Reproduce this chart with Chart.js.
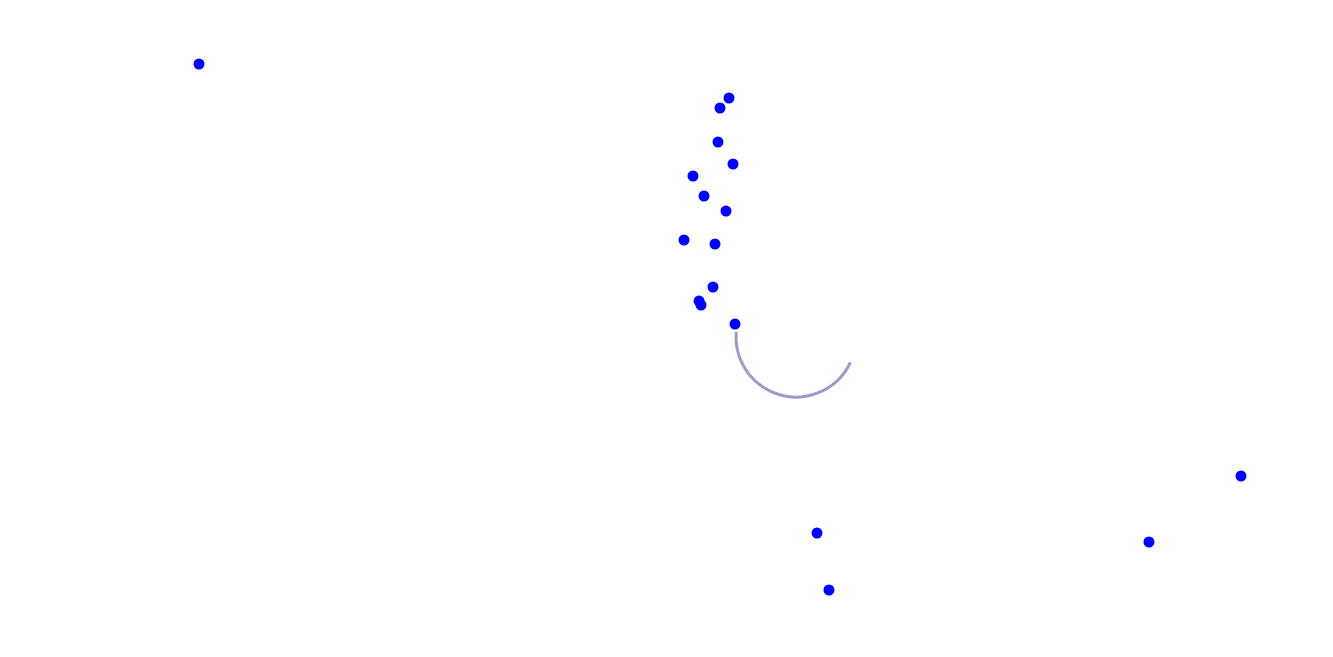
<!DOCTYPE html>
<html>
<head>
<meta charset="utf-8">
<script src="https://cdn.jsdelivr.net/npm/chart.js@4/dist/chart.umd.min.js"></script>
<style>
  html, body { margin: 0; padding: 0; background: #ffffff; }
  #wrap { width: 1333px; height: 657px; position: relative; }
</style>
</head>
<body>
<div id="wrap"><canvas id="c"></canvas></div>
<script>
// Data (x, y in chart units; y measured upward)
const xValues = [199, 729, 720, 718, 733, 693, 704, 726, 684, 715, 713, 699, 701, 735, 817, 829, 1149, 1241];
const yValues = [593, 559, 549, 515, 493, 481, 461, 446, 417, 413, 370, 356, 352, 333, 124, 67, 115, 181];

// Arc decoration (center in chart units)
const arcCenterX = 796;
const arcCenterY = 320;
const arcRadiusPx = 60;
const arcStartDeg = 25;
const arcEndDeg = 185;

const points = xValues.map((x, i) => ({ x: x, y: yValues[i] }));

const arcPlugin = {
  id: 'arcDecor',
  afterDatasetsDraw(chart) {
    const ctx = chart.ctx;
    const cx = chart.scales.x.getPixelForValue(arcCenterX);
    const cy = chart.scales.y.getPixelForValue(arcCenterY);
    ctx.save();
    ctx.beginPath();
    ctx.strokeStyle = '#9f98cc';
    ctx.lineWidth = 3;
    ctx.arc(cx, cy, arcRadiusPx, arcStartDeg * Math.PI / 180, arcEndDeg * Math.PI / 180, false);
    ctx.stroke();
    ctx.restore();
  }
};

new Chart(document.getElementById('c'), {
  type: 'scatter',
  data: {
    datasets: [{
      data: points,
      backgroundColor: '#0000ff',
      borderColor: '#0000ff',
      pointRadius: 5.5,
      pointHoverRadius: 5.5,
      borderWidth: 0
    }]
  },
  options: {
    responsive: true,
    maintainAspectRatio: false,
    animation: false,
    layout: { padding: 0, autoPadding: false },
    plugins: { legend: { display: false }, tooltip: { enabled: false } },
    scales: {
      x: { type: 'linear', min: 0, max: 1333, display: false },
      y: { type: 'linear', min: 0, max: 657, display: false }
    }
  },
  plugins: [arcPlugin]
});
</script>
</body>
</html>
